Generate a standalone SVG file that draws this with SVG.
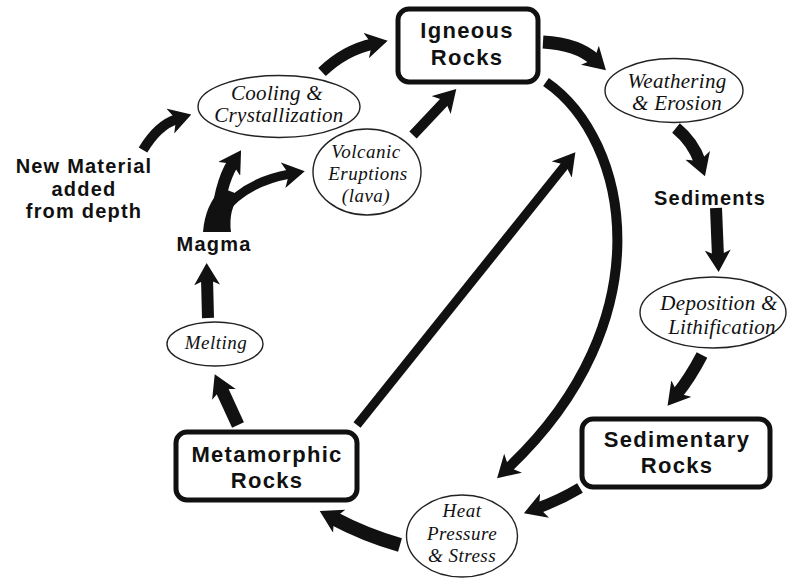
<svg xmlns="http://www.w3.org/2000/svg" width="787" height="578" viewBox="0 0 787 578">
<style>
.box{fill:#fff;stroke:#111;stroke-width:5}
.ell{fill:#fff;stroke:#222;stroke-width:1.4}
.bt{font-family:"Liberation Sans",Arial,sans-serif;font-weight:bold;font-size:22px;fill:#111;text-anchor:middle;letter-spacing:1.3px}
.lt{font-family:"Liberation Sans",Arial,sans-serif;font-weight:bold;font-size:20px;fill:#111;text-anchor:middle;letter-spacing:1.2px}
.it{font-family:"Liberation Serif","Times New Roman",serif;font-style:italic;font-size:21px;fill:#111;text-anchor:middle;letter-spacing:0.3px}
.sm{font-size:19px;letter-spacing:0.5px}
.ar{fill:none;stroke:#111;stroke-linecap:butt;marker-end:url(#ah)}
</style>
<defs>
<marker id="ah" markerUnits="userSpaceOnUse" viewBox="0 0 22 26" markerWidth="22" markerHeight="26" refX="7" refY="13" orient="auto">
<path d="M0,0 L22,13 L0,26 L6,13 z" fill="#111"/>
</marker>
</defs>
<rect width="787" height="578" fill="#fff"/>
<g id="connectors">
<path class="ar" stroke-width="11" d="M322,72 Q345,50 373,44"/>
<path class="ar" stroke-width="10" d="M413,135 L446,100"/>
<path class="ar" stroke-width="10" d="M143,150 Q158,125 177,119"/>
<path d="M203,232 L231,232 Q228,210 240,195 L222,188 Q205,205 203,232 z" fill="#111"/>
<path class="ar" stroke-width="12" d="M216,230 Q219,185 233,163"/>
<path class="ar" stroke-width="9" d="M222,212 Q245,182 290,174"/>
<path class="ar" stroke-width="12" d="M208,318 L207,278"/>
<path class="ar" stroke-width="13" d="M238,425 L221,388"/>
<path class="ar" stroke-width="9" d="M357,425 L566,164"/>
<path class="ar" stroke-width="10" d="M546,82 C630,140 665,320 508,468"/>
<path class="ar" stroke-width="13" d="M543,42 Q578,44 595,60"/>
<path class="ar" stroke-width="12" d="M676,128 Q693,142 700,162"/>
<path class="ar" stroke-width="12" d="M716,208 L718,257"/>
<path class="ar" stroke-width="12" d="M702,355 Q690,378 677,394"/>
<path class="ar" stroke-width="11" d="M580,488 Q560,500 538,508"/>
<path class="ar" stroke-width="14" d="M400,545 Q365,535 333,518"/>
</g>
<g id="igneous">
<rect class="box" x="398" y="9" width="140" height="73" rx="11"/>
<text class="bt" x="467" y="38">Igneous</text>
<text class="bt" x="467" y="65">Rocks</text>
</g>
<g id="sedimentary">
<rect class="box" x="582" y="419" width="188" height="68" rx="11"/>
<text class="bt" x="677" y="447">Sedimentary</text>
<text class="bt" x="677" y="473">Rocks</text>
</g>
<g id="metamorphic">
<rect class="box" x="176" y="432" width="181" height="68" rx="11"/>
<text class="bt" x="267" y="462">Metamorphic</text>
<text class="bt" x="267" y="488">Rocks</text>
</g>
<g id="cooling">
<ellipse class="ell" cx="279" cy="106.5" rx="81" ry="31"/>
<text class="it" x="277" y="100">Cooling &amp;</text>
<text class="it" x="279" y="122">Crystallization</text>
</g>
<g id="volcanic">
<ellipse class="ell" cx="367" cy="172" rx="54" ry="43"/>
<text class="it sm" x="366" y="158">Volcanic</text>
<text class="it sm" x="368" y="180">Eruptions</text>
<text class="it sm" x="366" y="202">(lava)</text>
</g>
<g id="weathering">
<ellipse class="ell" cx="674" cy="90.5" rx="69" ry="32"/>
<text class="it" x="677" y="88">Weathering</text>
<text class="it" x="677" y="110">&amp; Erosion</text>
</g>
<g id="sediments">
<text class="lt" x="710" y="205">Sediments</text>
</g>
<g id="deposition">
<ellipse class="ell" cx="713" cy="312.5" rx="73" ry="35.5"/>
<text class="it" x="719" y="310">Deposition &amp;</text>
<text class="it" x="722" y="334">Lithification</text>
</g>
<g id="heat">
<ellipse class="ell" cx="462" cy="536" rx="55.5" ry="41"/>
<text class="it sm" x="462" y="517">Heat</text>
<text class="it sm" x="462" y="540">Pressure</text>
<text class="it sm" x="462" y="562">&amp; Stress</text>
</g>
<g id="melting">
<ellipse class="ell" cx="215" cy="344" rx="48" ry="22"/>
<text class="it sm" x="216" y="349">Melting</text>
</g>
<g id="magma">
<text class="lt" x="214" y="251">Magma</text>
</g>
<g id="new-material">
<text class="lt" x="84" y="173">New Material</text>
<text class="lt" x="84" y="196">added</text>
<text class="lt" x="84" y="218">from depth</text>
</g>
</svg>
